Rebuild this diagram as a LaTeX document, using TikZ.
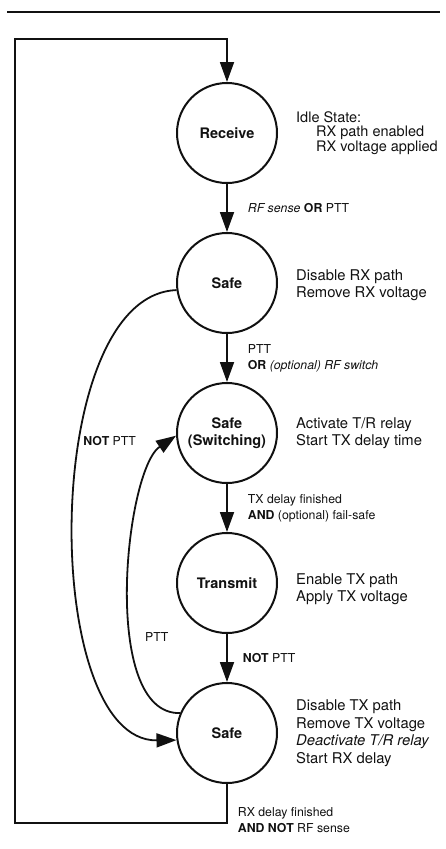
\documentclass[tikz,border=0pt]{standalone}
\usepackage{fontspec}
\setmainfont{TeX Gyre Heros}
\definecolor{ink}{HTML}{111111}
\usetikzlibrary{arrows.meta, positioning}
\tikzset{
  state/.style={
    circle, draw=ink, line width=2pt, minimum size=100pt, inner sep=0pt,
    font=\fontsize{14.5}{16.5}\selectfont\bfseries, text=ink, align=center
  },
  note/.style={
    anchor=west, inner sep=0pt, align=left, text=ink,
    font=\fontsize{14.8}{17.5}\selectfont
  },
  cond/.style={
    anchor=west, inner sep=0pt, align=left, text=ink,
    font=\fontsize{12.3}{16}\selectfont
  },
  arr/.style={-{Triangle[length=20pt,width=14pt]}, line width=1.8pt, draw=ink},
  wire/.style={line width=1.8pt, draw=ink},
}

\begin{document}
\begin{tikzpicture}[x=1pt, y=1pt, node distance=48pt]
    \useasboundingbox (0,0) rectangle (446,-849);
    \draw[line width=2.6pt, ink] (7,-12) -- (440,-12);

    \node[state] (rx) at (227,-133) {Receive};
    \node[state, below=of rx] (safe) {Safe};
    \node[state, below=of safe] (switch) {Safe\\(Switching)};
    \node[state, below=of switch] (tx) {Transmit};
    \node[state, below=of tx] (safetx) {Safe};

    \node[note, right=18pt of rx, font=\fontsize{14.5}{14.5}\selectfont] (rxnote)
      {Idle State:\\\hspace*{20pt}RX path enabled\\\hspace*{20pt}RX voltage applied};
    \node[note, right=18pt of safe, yshift=-2pt] (safenote)
      {Disable RX path\\Remove RX voltage};
    \node[note, right=18pt of switch] (switchnote)
      {Activate T/R relay\\Start TX delay time};
    \node[note, right=18pt of tx, yshift=-6pt] (txnote)
      {Enable TX path\\Apply TX voltage};
    \node[note, right=18pt of safetx] (safetxnote)
      {Disable TX path\\Remove TX voltage\\\textit{Deactivate T/R relay}\\Start RX delay};

    \coordinate (loopbot) at (227,-823);
    \coordinate (loopcorner) at (15,-39);

    \draw[arr] (rx) -- node[cond, xshift=20pt] {\textit{RF sense} \textbf{OR} PTT} (safe);
    \draw[arr] (safe) -- node[cond, xshift=20pt]
      {PTT\\\textbf{OR} \textit{(optional) RF switch}} (switch);
    \draw[arr] (switch) -- node[cond, xshift=20pt]
      {TX delay finished\\\textbf{AND} (optional) fail-safe} (tx);
    \draw[arr] (tx) -- node[cond, xshift=15pt] {\textbf{NOT} PTT} (safetx);

    \draw[arr] (safe.188) .. controls (40,-295) and (40,-742) ..
      node[cond, pos=0.385, xshift=3pt] {\textbf{NOT} PTT} (safetx.188);
    \draw[arr] (safetx.157) .. controls (100,-715) and (125,-470) ..
      node[cond, pos=0.37, xshift=14pt] {PTT} (switch.183);

    \draw[arr] (safetx.south) -- (loopbot)
      node[cond, xshift=10pt, yshift=3pt] {RX delay finished\\\textbf{AND NOT} RF sense}
      -| (loopcorner) -| (rx.north);
\end{tikzpicture}
\end{document}
